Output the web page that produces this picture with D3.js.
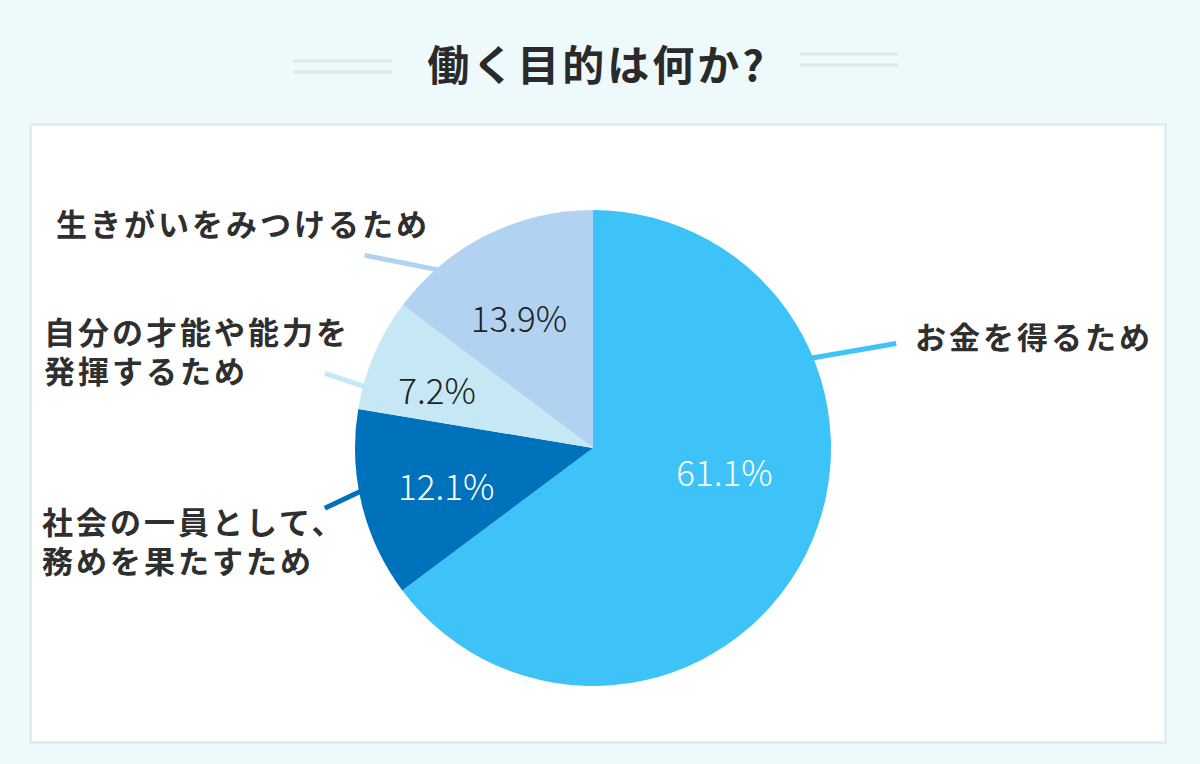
<!DOCTYPE html>
<html>
<head>
    <meta http-equiv="content-type" content="text/html; charset=utf-8">
    <script type="text/javascript" src="https://cdn.jsdelivr.net/npm/d3@7"></script>
    <style>
        html, body { margin: 0; padding: 0; background: #eef9fb; }
        svg { display: block; }
        text { font-family: "Noto Sans CJK JP", "Noto Sans", sans-serif; }
    </style>
</head>
<body>
<div class="chart"></div>
<script type="text/javascript">
// ======================
// data
// ======================
var categories = ['お金を得るため', '社会の一員として、\n務めを果たすため', '自分の才能や能力を\n発揮するため', '生きがいをみつけるため'];
var values = [61.1, 12.1, 7.2, 13.9];
var valueLabels = ['61.1%', '12.1%', '7.2%', '13.9%'];
var colors = ['#3ec3f8', '#0071bb', '#c6e8f4', '#b2d2f2'];
var valueColors = ['#ffffff', '#ffffff', '#222222', '#222222'];

var width = 1200,
    height = 764;

// ======================
// layout (label placement, degrees clockwise from top)
// ======================
var layout = {
    center: [593, 448],
    radius: 238,
    valuePos: [[101, 134], [255, 152], [290, 166], [330, 148]],
    leader: [
        { angle: 67.5, d: [87, -15] },
        { angle: 259.6, d: [-38, 18] },
        { angle: 285, d: [-42, -14] },
        { angle: 319.4, d: [-76, -15] }
    ],
    label: [
        { x: 915, y: 338 },
        { x: 42, y: 523 },
        { x: 44, y: 333 },
        { x: 56, y: 225 }
    ],
    lineGap: 39
};

var svg = d3.select('.chart')
        .append('svg')
        .attr('width', width)
        .attr('height', height);

svg.append('rect')
        .attr('width', width)
        .attr('height', height)
        .attr('fill', '#eef9fb');

// ====================== title
var title = svg.append('g');
title.append('text')
        .attr('x', 597)
        .attr('y', 66)
        .attr('dy', '0.36em')
        .attr('text-anchor', 'middle')
        .attr('font-size', 42)
        .attr('font-weight', 700)
        .attr('letter-spacing', 3)
        .attr('fill', '#2a2a2a')
        .text('働く目的は何か?');

[[293, 392, 61], [293, 392, 72], [800, 898, 54], [800, 898, 65]].forEach(function (l) {
    title.append('line')
            .attr('x1', l[0]).attr('x2', l[1])
            .attr('y1', l[2]).attr('y2', l[2])
            .attr('stroke', '#dbebed')
            .attr('stroke-width', 3);
});

// ====================== panel
svg.append('rect')
        .attr('x', 30.5)
        .attr('y', 124.5)
        .attr('width', 1135)
        .attr('height', 618)
        .attr('fill', '#ffffff')
        .attr('stroke', '#e0eeef')
        .attr('stroke-width', 3);

// ====================== pie
var rad = function (deg) { return deg * Math.PI / 180; };
var polar = function (deg, r) {
    return [layout.center[0] + Math.sin(rad(deg)) * r, layout.center[1] - Math.cos(rad(deg)) * r];
};

var pie = d3.pie().sort(null).value(function (d) { return d; });
var arc = d3.arc().innerRadius(0).outerRadius(layout.radius);
var arcs = pie(values);

var g = svg.append('g')
        .attr('transform', 'translate(' + layout.center[0] + ',' + layout.center[1] + ')');

g.selectAll('path')
        .data(arcs)
        .enter()
        .append('path')
        .attr('d', arc)
        .attr('fill', function (d, i) { return colors[i]; });

// leader lines
svg.selectAll('line.leader')
        .data(arcs)
        .enter()
        .append('line')
        .classed('leader', true)
        .each(function (d, i) {
            var p = polar(layout.leader[i].angle, layout.radius - 4);
            d3.select(this)
                    .attr('x1', p[0]).attr('y1', p[1])
                    .attr('x2', p[0] + layout.leader[i].d[0])
                    .attr('y2', p[1] + layout.leader[i].d[1]);
        })
        .attr('stroke', function (d, i) { return colors[i]; })
        .attr('stroke-width', 5);

// value labels
svg.selectAll('text.value')
        .data(arcs)
        .enter()
        .append('text')
        .classed('value', true)
        .each(function (d, i) {
            var p = polar(layout.valuePos[i][0], layout.valuePos[i][1]);
            d3.select(this).attr('x', p[0]).attr('y', p[1]);
        })
        .attr('dy', '0.36em')
        .attr('text-anchor', 'middle')
        .attr('font-size', 35)
        .attr('font-weight', 300)
        .attr('fill', function (d, i) { return valueColors[i]; })
        .text(function (d, i) { return valueLabels[i]; });

// category labels
categories.forEach(function (c, i) {
    var t = svg.append('text')
            .attr('x', layout.label[i].x)
            .attr('y', layout.label[i].y)
            .attr('font-size', 31)
            .attr('font-weight', 700)
            .attr('letter-spacing', 3)
            .attr('fill', '#2f2f2f');
    c.split('\n').forEach(function (line, j) {
        t.append('tspan')
                .attr('x', layout.label[i].x)
                .attr('y', layout.label[i].y + j * layout.lineGap)
                .attr('dy', '0.36em')
                .text(line);
    });
});
</script>
</body>
</html>
